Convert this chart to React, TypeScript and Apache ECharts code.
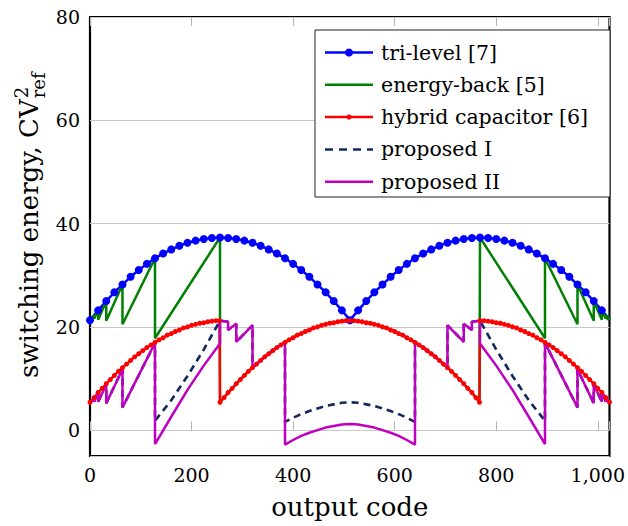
import React, { useEffect, useRef } from "react";
import * as echarts from "echarts";

const range = (a: number, b: number, s: number): number[] => {
  const r: number[] = [];
  for (let v = a; v <= b; v += s) r.push(v);
  return r;
};

// ---------- data ----------
const xTicks = [0, 200, 400, 600, 800, 1000];
const yTicks = [0, 20, 40, 60, 80];

// tri-level [7] (marks every 16 codes, last sample at 1023)
const triCodes = [...range(0, 1008, 16), 1023];
const triValues = [
  21.3, 23.2, 25.0, 26.7, 28.2, 29.7, 31.0, 32.2, 33.3, 34.2, 35.0, 35.7, 36.3, 36.7, 37.0, 37.2, 37.3,
  37.2, 37.0, 36.7, 36.3, 35.7, 35.0, 34.2, 33.3, 32.2, 31.0, 29.7, 28.2, 26.7, 25.0, 23.2, 21.3,
  23.2, 25.0, 26.7, 28.2, 29.7, 31.0, 32.2, 33.3, 34.2, 35.0, 35.7, 36.3, 36.7, 37.0, 37.2, 37.3,
  37.2, 37.0, 36.7, 36.3, 35.7, 35.0, 34.2, 33.3, 32.2, 31.0, 29.7, 28.2, 26.7, 25.0, 23.2, 21.4,
];

// hybrid capacitor [6]
const redCodes = [
  ...range(0, 248, 8), 255,
  ...range(256, 512, 8),
  ...range(520, 760, 8), 767,
  ...range(768, 1016, 8), 1023,
];
const redValues = [
  5.4, 6.3, 7.3, 8.1, 9.0, 9.8, 10.6, 11.4, 12.1, 12.8, 13.5, 14.2, 14.8, 15.4, 16.0, 16.5, 17.0,
  17.5, 17.9, 18.4, 18.7, 19.1, 19.4, 19.8, 20.0, 20.3, 20.5, 20.7, 20.8, 21.0, 21.1, 21.2, 21.2,
  5.4, 6.3, 7.3, 8.1, 9.0, 9.8, 10.6, 11.4, 12.1, 12.8, 13.5, 14.2, 14.8, 15.4, 16.0, 16.5, 17.0,
  17.5, 17.9, 18.4, 18.7, 19.1, 19.4, 19.8, 20.0, 20.3, 20.5, 20.7, 20.8, 21.0, 21.1, 21.2, 21.2,
  21.2, 21.1, 21.0, 20.8, 20.7, 20.5, 20.3, 20.0, 19.8, 19.4, 19.1, 18.7, 18.4, 17.9, 17.5, 17.0,
  16.5, 16.0, 15.4, 14.8, 14.2, 13.5, 12.8, 12.1, 11.4, 10.6, 9.8, 9.0, 8.1, 7.3, 6.3, 5.4,
  21.2, 21.2, 21.1, 21.0, 20.8, 20.7, 20.5, 20.3, 20.0, 19.8, 19.4, 19.1, 18.7, 18.4, 17.9, 17.5,
  17.0, 16.5, 16.0, 15.4, 14.8, 14.2, 13.5, 12.8, 12.1, 11.4, 10.6, 9.8, 9.0, 8.1, 7.3, 6.3, 5.4,
];

// energy-back [5] (outer sawtooth parts; middle part coincides with the hybrid curve)
const greenLeftCodes = [0, 4, 4, 8, 8, 16, 16, 32, 32, 64, 64, 128, 128, 256];
const greenLeftValues = [21.3, 21.9, 21.4, 22.3, 21.6, 23.2, 21.4, 25.0, 21.2, 28.2, 20.5, 33.3, 17.8, 37.3];
const greenRightCodes = [768, 896, 896, 960, 960, 992, 992, 1008, 1008, 1016, 1016, 1020, 1020, 1023];
const greenRightValues = [37.3, 17.8, 33.3, 20.5, 28.2, 21.2, 25.0, 21.4, 23.2, 21.6, 22.3, 21.4, 21.9, 21.3];

// proposed I
const p1Codes = [
  0, 4, 4, 8, 8, 16, 16, 32, 32, 64, 64, 128,
  128, 160, 192, 224, 256,
  272, 272, 288, 288, 320, 320, 328, 336, 344, 352, 360, 368, 376, 384,
  ...range(384, 640, 16),
  ...range(640, 704, 8),
  704, 736, 736, 752, 752, 768,
  800, 832, 864, 896,
  896, 960, 960, 992, 992, 1008, 1008, 1016, 1016, 1020, 1020, 1023,
];
const p1Values = [
  5.4, 5.9, 5.5, 6.3, 5.5, 7.5, 5.5, 8.8, 5.2, 11.8, 4.4, 16.9,
  1.8, 5.8, 10.5, 15.6, 21.2,
  21.0, 19.4, 20.6, 17.1, 20.3, 12.1, 12.8, 13.5, 14.2, 14.8, 15.4, 16.0, 16.5, 17.0,
  1.6, 2.4, 3.1, 3.7, 4.2, 4.7, 5.0, 5.3, 5.4, 5.3, 5.0, 4.7, 4.2, 3.7, 3.1, 2.4, 1.6,
  17.0, 16.5, 16.0, 15.4, 14.8, 14.2, 13.5, 12.8, 12.1,
  20.3, 17.1, 20.6, 19.4, 21.0, 21.2,
  15.6, 10.5, 5.8, 1.8,
  16.9, 4.4, 11.8, 5.2, 8.8, 5.5, 7.5, 5.5, 6.3, 5.5, 5.9, 5.4,
];

// proposed II
const p2Codes = [
  0, 4, 4, 8, 8, 16, 16, 32, 32, 64, 64, 128,
  128, 160, 192, 224, 256,
  256, 272, 272, 288, 288, 320, 320, 328, 336, 344, 352, 360, 368, 376, 384,
  ...range(384, 640, 16),
  ...range(640, 704, 8),
  704, 736, 736, 752, 752, 768,
  768, 800, 832, 864, 896,
  896, 960, 960, 992, 992, 1008, 1008, 1016, 1016, 1020, 1020, 1023,
];
const p2Values = [
  5.4, 5.9, 5.5, 6.3, 5.5, 7.5, 5.5, 8.8, 5.2, 11.8, 4.4, 16.9,
  -2.7, 2.6, 7.8, 12.5, 16.8,
  21.2, 21.0, 19.4, 20.6, 17.1, 20.3, 12.1, 12.8, 13.5, 14.2, 14.8, 15.4, 16.0, 16.5, 17.0,
  -2.8, -1.9, -1.1, -0.5, 0.0, 0.5, 0.8, 1.1, 1.2, 1.1, 0.8, 0.5, 0.0, -0.5, -1.1, -1.9, -2.8,
  17.0, 16.5, 16.0, 15.4, 14.8, 14.2, 13.5, 12.8, 12.1,
  20.3, 17.1, 20.6, 19.4, 21.0, 21.2,
  16.8, 12.5, 7.8, 2.6, -2.7,
  16.9, 4.4, 11.8, 5.2, 8.8, 5.5, 7.5, 5.5, 6.3, 5.5, 5.9, 5.4,
];

const seriesNames = ["tri-level [7]", "energy-back [5]", "hybrid capacitor [6]", "proposed I", "proposed II"];
const colors = ["#0000ff", "#008000", "#ff0000", "#13285e", "#c000c0"];

const FONT = '"DejaVu Serif", serif';

const pairs = (c: number[], v: number[]) => c.map((x, i) => [x, v[i]]);

function measure(text: string, font: string): number {
  const ctx = document.createElement("canvas").getContext("2d");
  if (!ctx) return text.length * 12;
  ctx.font = font;
  return ctx.measureText(text).width;
}

export default function App() {
  const ref = useRef<HTMLDivElement>(null);
  useEffect(() => {
    if (!ref.current) return;
    const chart = echarts.init(ref.current, null, { renderer: "svg" });

    const triData: any[] = triCodes.map((c, i) =>
      c === 1023 ? { value: [c, triValues[i]], symbol: "none" } : [c, triValues[i]]
    );
    const redData = pairs(redCodes, redValues);
    const greenData = [
      ...pairs(greenLeftCodes, greenLeftValues),
      ...redData.filter((p) => p[0] >= 256 && p[0] <= 767),
      ...pairs(greenRightCodes, greenRightValues),
    ];

    const titleFont = `26px ${FONT}`;
    const mainTitle = "switching energy, CV";
    const mainW = measure(mainTitle, titleFont);

    const lx1 = 325, lx2 = 373, ltx = 381;
    const ly = [52.5, 84.8, 117.1, 149.4, 181.7];
    const Z = 100;
    const legendEls: any[] = [
      {
        type: "rect",
        z: Z,
        shape: { x: 315, y: 30, width: 295, height: 167 },
        style: { fill: "#fff", stroke: "#222", lineWidth: 1 },
      },
    ];
    seriesNames.forEach((name, i) => {
      legendEls.push({
        type: "line",
        z: Z + 1,
        shape: { x1: lx1, y1: ly[i], x2: lx2, y2: ly[i] },
        style: {
          stroke: colors[i],
          lineWidth: 2.5,
          lineDash: i === 3 ? [8, 6] : null,
        },
      });
      if (i === 0) {
        legendEls.push({ type: "circle", z: Z + 2, shape: { cx: 349, cy: ly[i], r: 4 }, style: { fill: colors[0] } });
      }
      if (i === 2) {
        legendEls.push({ type: "circle", z: Z + 2, shape: { cx: 349, cy: ly[i], r: 2.6 }, style: { fill: colors[2] } });
      }
      legendEls.push({
        type: "text",
        z: Z + 2,
        x: ltx,
        y: ly[i],
        style: {
          text: name,
          font: `20.5px ${FONT}`,
          fill: "#000",
          textAlign: "left",
          textVerticalAlign: "middle",
        },
      });
    });

    const option: any = {
      animation: false,
      grid: {
        left: 90,
        top: 17,
        width: 522,
        height: 439,
        show: true,
        borderColor: "#000",
        borderWidth: 2.2,
        backgroundColor: "transparent",
      },
      xAxis: [
        {
          type: "value",
          min: 0,
          max: 1023,
          interval: 200,
          position: "bottom",
          axisLine: { show: false },
          axisTick: { show: true, inside: true, length: 9, lineStyle: { color: "#b4b4b4", width: 1 } },
          axisLabel: {
            margin: 9,
            fontFamily: FONT,
            fontSize: 19,
            color: "#000",
            formatter: (v: number) =>
              xTicks.includes(v) ? (v >= 1000 ? v.toLocaleString("en-US") : String(v)) : "",
          },
          splitLine: { show: false },
          name: "output code",
          nameLocation: "middle",
          nameGap: 38,
          nameTextStyle: { fontFamily: FONT, fontSize: 26, color: "#000" },
        },
        {
          type: "value",
          min: 0,
          max: 1023,
          interval: 200,
          position: "top",
          axisLine: { show: false },
          axisTick: { show: true, inside: true, length: 9, lineStyle: { color: "#b4b4b4", width: 1 } },
          axisLabel: { show: false },
          splitLine: { show: false },
        },
      ],
      yAxis: {
        type: "value",
        min: -5,
        max: 80,
        splitNumber: 4,
        axisLine: { show: false },
        axisTick: { show: false },
        axisLabel: {
          margin: 10,
          fontFamily: FONT,
          fontSize: 19,
          color: "#000",
          formatter: (v: number) => (yTicks.includes(v) ? String(v) : ""),
        },
        splitLine: { show: true, lineStyle: { color: "#c8c8c8", width: 1 } },
      },
      series: [
        {
          name: seriesNames[0],
          type: "line",
          data: triData,
          symbol: "circle",
          symbolSize: 8,
          showSymbol: true,
          lineStyle: { color: colors[0], width: 2.5 },
          itemStyle: { color: colors[0] },
        },
        {
          name: seriesNames[1],
          type: "line",
          data: greenData,
          symbol: "none",
          showSymbol: false,
          lineStyle: { color: colors[1], width: 2.5 },
        },
        {
          name: seriesNames[2],
          type: "line",
          data: redData,
          symbol: "circle",
          symbolSize: 5,
          showSymbol: true,
          lineStyle: { color: colors[2], width: 2.4 },
          itemStyle: { color: colors[2] },
        },
        {
          name: seriesNames[3],
          type: "line",
          data: pairs(p1Codes, p1Values),
          symbol: "none",
          showSymbol: false,
          lineStyle: { color: colors[3], width: 2.6, type: [7, 5] },
        },
        {
          name: seriesNames[4],
          type: "line",
          data: pairs(p2Codes, p2Values),
          symbol: "none",
          showSymbol: false,
          lineStyle: { color: colors[4], width: 2.5 },
        },
      ],
      graphic: [
        {
          type: "group",
          x: 29,
          y: 378,
          rotation: Math.PI / 2,
          children: [
            {
              type: "text",
              x: 0,
              y: 0,
              style: { text: mainTitle, font: titleFont, fill: "#000", textAlign: "left", textVerticalAlign: "middle" },
            },
            {
              type: "text",
              x: mainW + 1,
              y: -8,
              style: { text: "2", font: `18px ${FONT}`, fill: "#000", textAlign: "left", textVerticalAlign: "middle" },
            },
            {
              type: "text",
              x: mainW + 1,
              y: 9,
              style: { text: "ref", font: `18px ${FONT}`, fill: "#000", textAlign: "left", textVerticalAlign: "middle" },
            },
          ],
        },
        ...legendEls,
      ],
    };
    chart.setOption(option);
    return () => chart.dispose();
  }, []);
  return (
    <div
      ref={ref}
      style={{ position: "fixed", left: 0, top: 0, width: 628, height: 526, background: "#fff" }}
    />
  );
}
